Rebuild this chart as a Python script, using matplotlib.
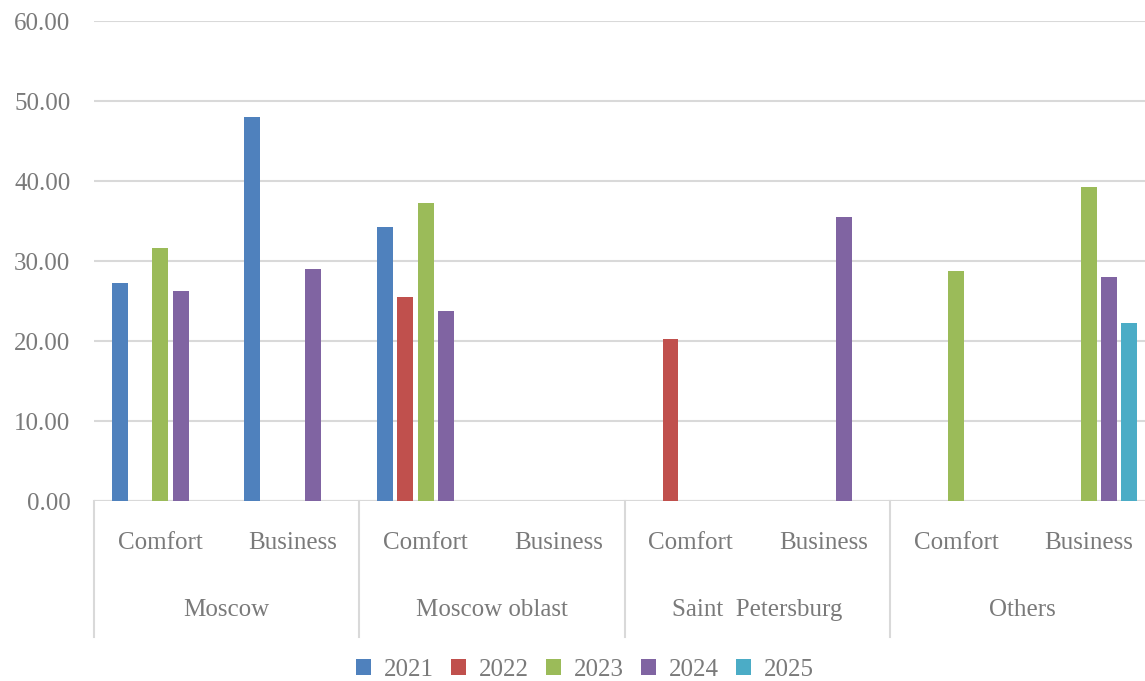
import numpy as np
import matplotlib.pyplot as plt
import matplotlib.transforms as mtransforms

regions = ["Moscow", "Moscow oblast", "Saint  Petersburg", "Others"]
segments = ["Comfort", "Business"]
years = ["2021", "2022", "2023", "2024", "2025"]

# values per year, order: Moscow C/B, Moscow oblast C/B, SPb C/B, Others C/B (0 = no bar)
v2021 = [27.3, 48.0, 34.2, 0, 0, 0, 0, 0]
v2022 = [0, 0, 25.5, 0, 20.3, 0, 0, 0]
v2023 = [31.6, 0, 37.2, 0, 0, 0, 28.8, 39.2]
v2024 = [26.2, 29.0, 23.7, 0, 0, 35.5, 0, 28.0]
v2025 = [0, 0, 0, 0, 0, 0, 0, 22.3]
series = [v2021, v2022, v2023, v2024, v2025]
colors = ["#4F81BD", "#C0504D", "#9BBB59", "#8064A2", "#4BACC6"]

text_color = "#7a7a7a"
grid_color = "#d9d9d9"
plt.rcParams['font.family'] = ['Liberation Serif', 'DejaVu Serif']
fs = 18

W, H = 1145, 681
fig = plt.figure(figsize=(W / 100, H / 100), dpi=100)
left, right, top, bottom = 94, 1155, 21, 501
ax = fig.add_axes([left / W, 1 - bottom / H, (right - left) / W, (bottom - top) / H])

x = np.arange(8)
step = 0.153
width = 0.12
for i, (vals, c, y) in enumerate(zip(series, colors, years)):
    vals = np.array(vals, dtype=float)
    ax.bar(x + (i - 2) * step, np.where(vals > 0, vals, np.nan), width, color=c, label=y, zorder=3)

ax.set_xlim(-0.5, 7.5)
ax.set_ylim(0, 60)
ax.set_yticks(np.arange(0, 61, 10))
ax.set_yticklabels([f"{v:.2f}" for v in np.arange(0, 61, 10)], fontsize=fs, color=text_color)
ax.tick_params(axis='y', length=0, pad=17)
ax.set_xticks([])
for s in ax.spines.values():
    s.set_visible(False)
ax.grid(axis='y', color=grid_color, linewidth=1.5, zorder=0)
ax.axhline(0, color=grid_color, linewidth=1.5, zorder=1)

# multi-level category axis
trans = mtransforms.blended_transform_factory(ax.transData, fig.transFigure)
y_seg = 1 - 543 / H
y_reg = 1 - 610 / H
y_low = 1 - 637 / H
y_axis = 1 - bottom / H
for k in range(8):
    ax.text(k, y_seg, segments[k % 2], transform=trans, ha='center', va='center',
            fontsize=fs, color=text_color)
for j, r in enumerate(regions):
    ax.text(2 * j + 0.5, y_reg, r, transform=trans, ha='center', va='center',
            fontsize=fs, color=text_color)
for b in [-0.5, 1.5, 3.5, 5.5]:
    ax.plot([b, b], [y_axis, y_low], transform=trans, color=grid_color,
            linewidth=1.5, clip_on=False)

fig.legend(loc='center', bbox_to_anchor=(585 / W, 1 - 670 / H), ncol=5, frameon=False,
           fontsize=fs, labelcolor=text_color, handlelength=0.6, handleheight=0.6,
           handletextpad=0.5, columnspacing=0.7, borderpad=0.1)

plt.savefig("out.png", dpi=100)
